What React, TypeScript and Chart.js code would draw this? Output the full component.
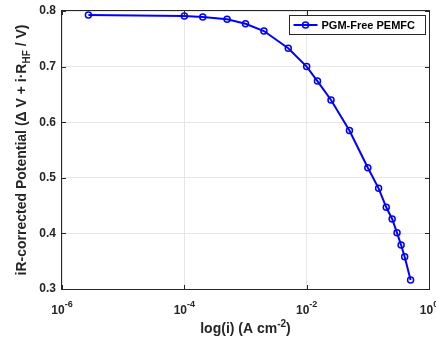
import React, { useEffect, useRef } from "react";
import { Chart, registerables } from "chart.js";

Chart.register(...registerables);

// ---- data ----
const currentDensity = [
  2.7e-6, 1e-4, 2e-4, 5e-4, 1e-3, 2e-3, 5e-3, 1e-2, 0.015, 0.025, 0.05, 0.1,
  0.15, 0.2, 0.25, 0.3, 0.35, 0.4, 0.5,
];
const potential = [
  0.793, 0.791, 0.789, 0.785, 0.777, 0.764, 0.733, 0.7, 0.674, 0.64, 0.585,
  0.518, 0.481, 0.447, 0.426, 0.401, 0.379, 0.358, 0.316,
];
const xTickValues = [1e-6, 1e-4, 1e-2, 1];
const xTickExponents = ["-6", "-4", "-2", "0"];
const seriesLabel = "PGM-Free PEMFC";
const xTitleParts = ["log(i) (A cm", "-2", ")"];
const yTitleParts = ["iR-corrected Potential (Δ V + i·R", "HF", " / V)"];

const FONT = "'Liberation Sans', Arial, Helvetica, sans-serif";
const AXIS_COLOR = "#262626";
const LINE_COLOR = "#0000ff";

const decorPlugin = {
  id: "decor",
  afterDraw(chart: any) {
    const ctx = chart.ctx as CanvasRenderingContext2D;
    const { left, right, top, bottom } = chart.chartArea;
    const xs = chart.scales.x;
    const ys = chart.scales.y;
    ctx.save();

    // box
    ctx.strokeStyle = AXIS_COLOR;
    ctx.lineWidth = 1;
    ctx.strokeRect(Math.round(left) - 0.5, Math.round(top) - 0.5, Math.round(right - left) + 1, Math.round(bottom - top) + 1);

    // inner tick marks
    const tl = 4;
    ctx.beginPath();
    xs.ticks.forEach((t: any) => {
      const px = Math.round(xs.getPixelForValue(t.value)) + 0.5;
      ctx.moveTo(px, bottom);
      ctx.lineTo(px, bottom - tl);
      ctx.moveTo(px, top);
      ctx.lineTo(px, top + tl);
    });
    ys.ticks.forEach((t: any) => {
      const py = Math.round(ys.getPixelForValue(t.value)) + 0.5;
      ctx.moveTo(left, py);
      ctx.lineTo(left + tl, py);
      ctx.moveTo(right, py);
      ctx.lineTo(right - tl, py);
    });
    ctx.stroke();

    // x tick labels with superscript exponent
    ctx.fillStyle = AXIS_COLOR;
    ctx.textBaseline = "alphabetic";
    ctx.textAlign = "left";
    xs.ticks.forEach((t: any, i: number) => {
      const px = xs.getPixelForValue(t.value);
      const exp = xTickExponents[i];
      ctx.font = `bold 12px ${FONT}`;
      const wBase = ctx.measureText("10").width;
      ctx.font = `bold 9px ${FONT}`;
      const wExp = ctx.measureText(exp).width;
      const x0 = px - (wBase + wExp) / 2;
      ctx.font = `bold 12px ${FONT}`;
      ctx.fillText("10", x0, 313.5);
      ctx.font = `bold 9px ${FONT}`;
      ctx.fillText(exp, x0 + wBase, 307);
    });

    // x title
    {
      const fMain = `bold 14px ${FONT}`;
      const fSup = `bold 10px ${FONT}`;
      ctx.font = fMain;
      const w1 = ctx.measureText(xTitleParts[0]).width;
      const w3 = ctx.measureText(xTitleParts[2]).width;
      ctx.font = fSup;
      const w2 = ctx.measureText(xTitleParts[1]).width;
      const cx = (left + right) / 2;
      const x0 = cx - (w1 + w2 + w3) / 2;
      const base = 333;
      ctx.font = fMain;
      ctx.fillText(xTitleParts[0], x0, base);
      ctx.font = fSup;
      ctx.fillText(xTitleParts[1], x0 + w1, base - 6);
      ctx.font = fMain;
      ctx.fillText(xTitleParts[2], x0 + w1 + w2, base);
    }

    // y title (rotated) with subscript
    {
      const fMain = `bold 14px ${FONT}`;
      const fSub = `bold 10px ${FONT}`;
      ctx.font = fMain;
      const w1 = ctx.measureText(yTitleParts[0]).width;
      const w3 = ctx.measureText(yTitleParts[2]).width;
      ctx.font = fSub;
      const w2 = ctx.measureText(yTitleParts[1]).width;
      const total = w1 + w2 + w3;
      ctx.save();
      ctx.translate(26, (top + bottom) / 2);
      ctx.rotate(-Math.PI / 2);
      const x0 = -total / 2;
      ctx.font = fMain;
      ctx.fillText(yTitleParts[0], x0, 0);
      ctx.font = fSub;
      ctx.fillText(yTitleParts[1], x0 + w1, 4);
      ctx.font = fMain;
      ctx.fillText(yTitleParts[2], x0 + w1 + w2, 0);
      ctx.restore();
    }

    // legend
    {
      const bx = 289.5, by = 15.5, bw = 136, bh = 19;
      ctx.fillStyle = "#ffffff";
      ctx.fillRect(bx, by, bw, bh);
      ctx.strokeStyle = AXIS_COLOR;
      ctx.lineWidth = 1;
      ctx.strokeRect(bx, by, bw, bh);
      const ly = by + bh / 2;
      ctx.strokeStyle = LINE_COLOR;
      ctx.lineWidth = 2;
      ctx.beginPath();
      ctx.moveTo(bx + 4, ly);
      ctx.lineTo(bx + 28, ly);
      ctx.stroke();
      ctx.lineWidth = 1.5;
      ctx.beginPath();
      ctx.arc(bx + 16, ly, 3, 0, Math.PI * 2);
      ctx.stroke();
      ctx.fillStyle = "#000000";
      ctx.font = `bold 11px ${FONT}`;
      ctx.textBaseline = "middle";
      ctx.fillText(seriesLabel, bx + 32, ly + 0.5);
    }

    ctx.restore();
  },
};

export default function App() {
  const ref = useRef<HTMLCanvasElement | null>(null);

  useEffect(() => {
    if (!ref.current) return;
    const chart = new Chart(ref.current, {
      type: "line",
      data: {
        datasets: [
          {
            label: seriesLabel,
            data: currentDensity.map((x, i) => ({ x, y: potential[i] })),
            borderColor: LINE_COLOR,
            backgroundColor: "rgba(0,0,0,0)",
            borderWidth: 2,
            pointRadius: 3,
            pointBorderWidth: 1.5,
            pointBackgroundColor: "rgba(0,0,0,0)",
            pointBorderColor: LINE_COLOR,
            tension: 0,
          },
        ],
      },
      options: {
        animation: false,
        responsive: false,
        maintainAspectRatio: false,
        devicePixelRatio: 1,
        layout: { padding: { left: 0, right: 7, top: 11, bottom: 0 } },
        plugins: {
          legend: { display: false },
          tooltip: { enabled: false },
          title: { display: false },
        },
        scales: {
          x: {
            type: "logarithmic",
            min: 1e-6,
            max: 1,
            afterBuildTicks: (s: any) => {
              s.ticks = xTickValues.map((v) => ({ value: v, major: true }));
            },
            ticks: { display: false },
            grid: { color: "#e6e6e6", drawTicks: false, lineWidth: 1 },
            border: { display: false },
            afterFit: (s: any) => {
              s.height = 54;
              s.paddingLeft = 0;
              s.paddingRight = 0;
            },
          },
          y: {
            min: 0.3,
            max: 0.8,
            ticks: {
              stepSize: 0.1,
              callback: (v: any) => Number(v).toFixed(1),
              font: { family: FONT, size: 12, weight: "bold" },
              color: AXIS_COLOR,
              padding: 6,
            },
            grid: { color: "#e6e6e6", drawTicks: false, lineWidth: 1 },
            border: { display: false },
            afterFit: (s: any) => {
              s.width = 62;
              s.paddingTop = 0;
              s.paddingBottom = 0;
            },
          },
        },
      } as any,
      plugins: [decorPlugin],
    });
    return () => chart.destroy();
  }, []);

  return (
    <div style={{ position: "fixed", left: 0, top: 0, width: 436, height: 343, background: "#fff" }}>
      <canvas ref={ref} width={436} height={343} />
    </div>
  );
}
